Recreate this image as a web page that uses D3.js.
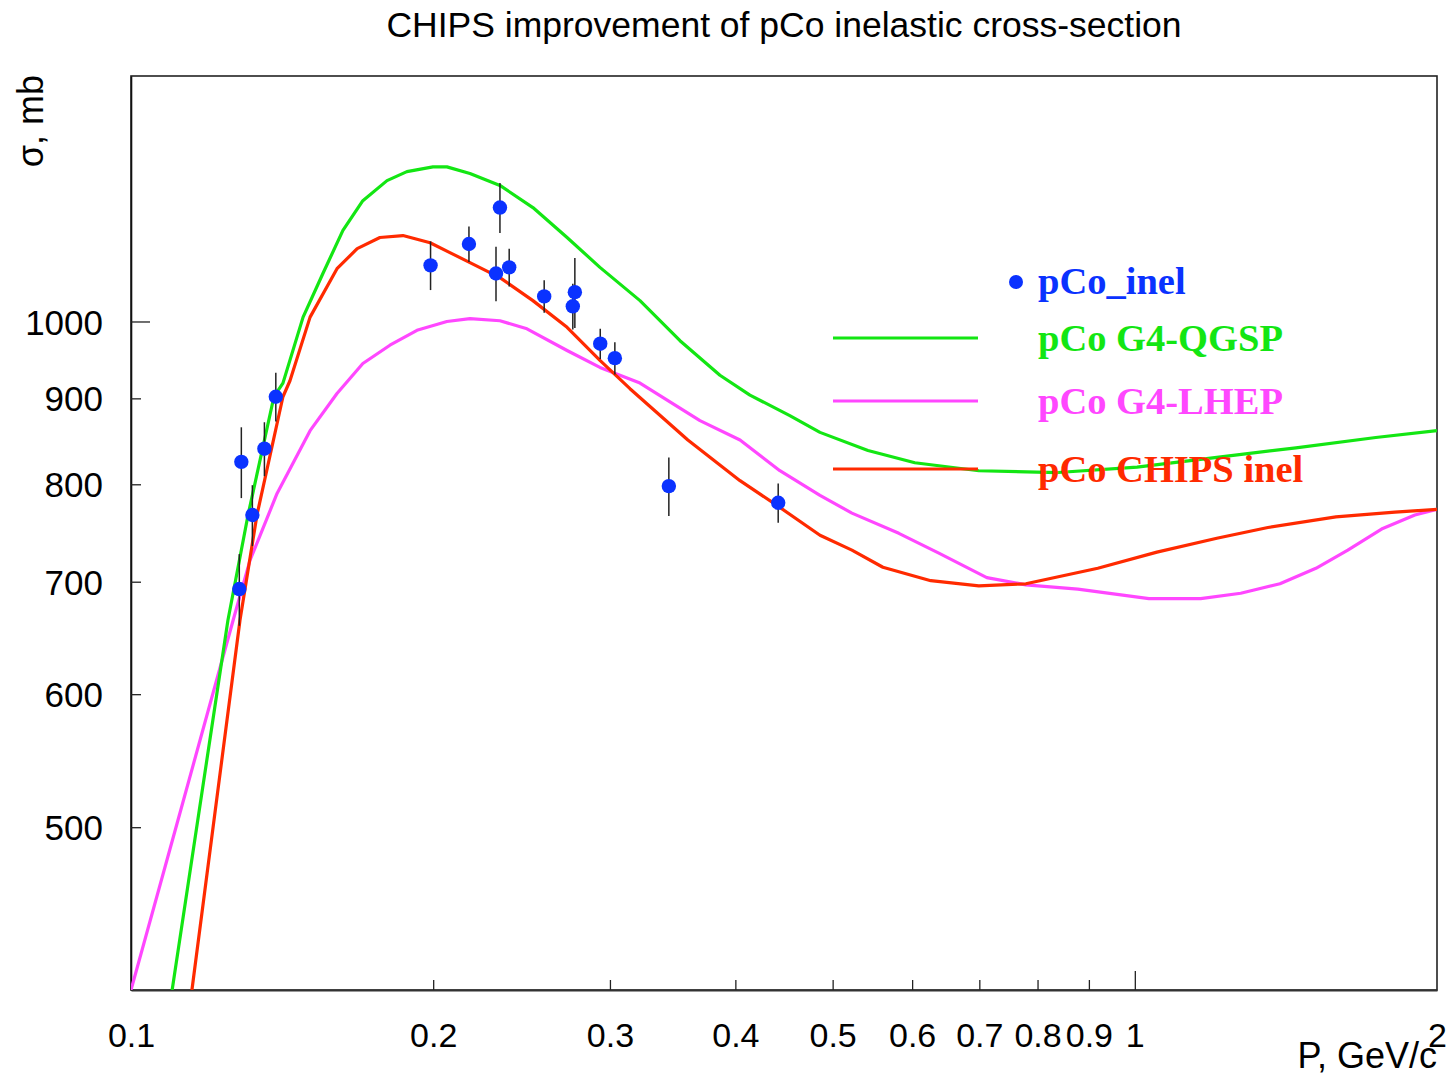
<!DOCTYPE html>
<html>
<head>
<meta charset="utf-8">
<script src="https://cdn.jsdelivr.net/npm/d3@7"></script>
<style>
  html, body { margin: 0; padding: 0; background: #fff; }
  svg { display: block; }
</style>
</head>
<body>
<svg id="chart" width="1452" height="1076"></svg>
<script>
// ---- data ----
const title = "CHIPS improvement of pCo inelastic cross-section";
const xTickValues = [0.1, 0.2, 0.3, 0.4, 0.5, 0.6, 0.7, 0.8, 0.9, 1, 2];
const xTickLabels = ["0.1", "0.2", "0.3", "0.4", "0.5", "0.6", "0.7", "0.8", "0.9", "1", "2"];
const yTickValues = [500, 600, 700, 800, 900, 1000];
const yTickLabels = ["500", "600", "700", "800", "900", "1000"];

// measured points pCo_inel
const dataP   = [0.1282, 0.1288, 0.1321, 0.1358, 0.1394, 0.1988, 0.2171, 0.2331, 0.2310, 0.2381, 0.2580, 0.2768, 0.2755, 0.2934, 0.3034, 0.3434, 0.4413];
const dataSig = [693, 825, 767, 840, 902, 1080, 1112, 1169, 1068, 1077, 1035, 1041, 1021, 970, 951, 798, 780];
const dataErr = [34, 40, 32, 31, 30, 36, 27, 40, 40, 28, 23, 50, 32, 20, 21, 32, 21];

// G4-QGSP
const qgspP   = [0.1099, 0.1249, 0.1308, 0.1388, 0.1417, 0.1484, 0.1553, 0.1626, 0.1702, 0.1799, 0.1883, 0.1999, 0.2064, 0.2176, 0.2331, 0.2514, 0.2719, 0.2932, 0.3214, 0.3523, 0.3861, 0.4136, 0.4532, 0.4857, 0.5422, 0.6038, 0.6992, 0.8382, 1.005, 1.207, 1.447, 1.738, 2.0];
const qgspSig = [400, 664, 767, 902, 919, 1006, 1068, 1133, 1180, 1213, 1228, 1236, 1236, 1225, 1205, 1169, 1122, 1077, 1029, 974, 929, 904, 879, 859, 838, 824, 815, 813, 819, 830, 841, 853, 861];

// G4-LHEP
const lhepP   = [0.1, 0.1119, 0.1264, 0.1314, 0.1398, 0.1508, 0.1604, 0.1702, 0.1811, 0.1927, 0.2064, 0.2176, 0.2331, 0.2480, 0.2719, 0.2932, 0.3214, 0.3688, 0.4043, 0.4430, 0.4857, 0.5226, 0.5820, 0.6379, 0.7121, 0.7789, 0.8775, 1.033, 1.163, 1.275, 1.395, 1.515, 1.630, 1.766, 1.901, 2.0];
const lhepSig = [400, 510, 664, 721, 790, 861, 906, 944, 968, 988, 1000, 1004, 1001, 990, 961, 939, 919, 873, 850, 815, 788, 769, 748, 728, 704, 697, 693, 684, 684, 689, 698, 713, 731, 753, 767, 773];

// CHIPS inel
const chipsP   = [0.1150, 0.1284, 0.1335, 0.1417, 0.1440, 0.1508, 0.1604, 0.1680, 0.1770, 0.1866, 0.1986, 0.2078, 0.2176, 0.2331, 0.2514, 0.2719, 0.2932, 0.3141, 0.3587, 0.4043, 0.4430, 0.4857, 0.5226, 0.5611, 0.6263, 0.6992, 0.7789, 0.9186, 1.052, 1.207, 1.357, 1.586, 1.816, 2.0];
const chipsSig = [400, 664, 767, 902, 922, 1006, 1075, 1105, 1122, 1125, 1114, 1099, 1084, 1062, 1029, 992, 948, 912, 850, 804, 775, 746, 731, 714, 701, 696, 698, 713, 729, 743, 754, 765, 770, 773];

const legendLabels = ["pCo_inel", "pCo G4-QGSP", "pCo G4-LHEP", "pCo CHIPS inel"];
const colors = { data: "#0a32ff", qgsp: "#13e613", lhep: "#ff47ff", chips: "#ff2a00" };

// ---- layout ----
const svg = d3.select("#chart");
const L = 131, R = 1437, T = 76, B = 990;
const x = d3.scaleLog().domain([0.1, 2]).range([L, R]);
const y = d3.scaleLog().domain([400, 1400]).range([B, T]);
const sans = "Liberation Sans, Arial, sans-serif";

svg.append("defs").append("clipPath").attr("id", "clip")
  .append("rect").attr("x", L).attr("y", T).attr("width", R - L).attr("height", B - T);

// title
svg.append("text").attr("x", 784).attr("y", 37).attr("text-anchor", "middle")
  .attr("font-family", sans).attr("font-size", 35.5)
  .text(title);

// frame
svg.append("rect").attr("x", L).attr("y", T).attr("width", R - L).attr("height", B - T)
  .attr("fill", "none").attr("stroke", "#222").attr("stroke-width", 1.6);

// x axis
const xAxis = d3.axisBottom(x).tickValues(xTickValues)
  .tickFormat((d, i) => xTickLabels[i]).tickSizeOuter(0);
const gx = svg.append("g").attr("transform", `translate(0,${B})`).call(xAxis);
gx.select(".domain").attr("stroke", "#333").attr("stroke-width", 2);
gx.selectAll(".tick line").attr("y2", d => (d === 1 ? -19 : -10)).attr("stroke", "#222").attr("stroke-width", 1.3)
  .attr("opacity", d => (d === 0.1 || d === 2) ? 0 : 1);
gx.selectAll(".tick text").attr("y", 57).attr("dy", 0)
  .attr("font-family", sans).attr("font-size", 34).attr("fill", "#000");

// y axis
const yAxis = d3.axisLeft(y).tickValues(yTickValues)
  .tickFormat((d, i) => yTickLabels[i]).tickSizeOuter(0);
const gy = svg.append("g").attr("transform", `translate(${L},0)`).call(yAxis);
gy.select(".domain").attr("stroke", "#111").attr("stroke-width", 1.6);
gy.selectAll(".tick line").attr("x2", d => (d === 1000 ? 19 : 10)).attr("stroke", "#222").attr("stroke-width", 1.3);
gy.selectAll(".tick text").attr("x", -28).attr("dy", "0.36em")
  .attr("font-family", sans).attr("font-size", 35).attr("fill", "#000");

// axis titles
svg.append("text").attr("transform", "translate(43,75) rotate(-90)").attr("text-anchor", "end")
  .attr("font-family", sans).attr("font-size", 36).text("σ, mb");
svg.append("text").attr("x", 1437).attr("y", 1068).attr("text-anchor", "end")
  .attr("font-family", sans).attr("font-size", 36).text("P, GeV/c");

// curves
const line = d3.line().x(d => x(d[0])).y(d => y(d[1]));
const plot = svg.append("g").attr("clip-path", "url(#clip)");
function drawCurve(px, py, col) {
  plot.append("path").datum(px.map((v, i) => [v, py[i]]))
    .attr("d", line).attr("fill", "none").attr("stroke", col).attr("stroke-width", 3.2)
    .attr("stroke-linejoin", "round");
}
drawCurve(lhepP, lhepSig, colors.lhep);
drawCurve(qgspP, qgspSig, colors.qgsp);
drawCurve(chipsP, chipsSig, colors.chips);

// data points
const pts = dataP.map((v, i) => ({ x: v, y: dataSig[i], e: dataErr[i] }));
plot.selectAll("line.err").data(pts).enter().append("line")
  .attr("x1", d => x(d.x)).attr("x2", d => x(d.x))
  .attr("y1", d => y(d.y + d.e)).attr("y2", d => y(d.y - d.e))
  .attr("stroke", "#222").attr("stroke-width", 1.5);
plot.selectAll("circle.pt").data(pts).enter().append("circle")
  .attr("cx", d => x(d.x)).attr("cy", d => y(d.y)).attr("r", 7.2)
  .attr("fill", colors.data);

// legend
const lg = svg.append("g");
const lfont = "Liberation Serif, Times New Roman, serif";
lg.append("circle").attr("cx", 1016).attr("cy", 282).attr("r", 7).attr("fill", colors.data);
const legendRows = [
  { label: legendLabels[0], col: colors.data, yy: 281, line: false },
  { label: legendLabels[1], col: colors.qgsp, yy: 338, line: true },
  { label: legendLabels[2], col: colors.lhep, yy: 401, line: true },
  { label: legendLabels[3], col: colors.chips, yy: 469, line: true }
];
legendRows.forEach(r => {
  if (r.line) lg.append("line").attr("x1", 833).attr("x2", 978).attr("y1", r.yy).attr("y2", r.yy)
    .attr("stroke", r.col).attr("stroke-width", 3);
  lg.append("text").attr("x", 1038).attr("y", r.yy + 13).attr("font-family", lfont)
    .attr("font-weight", "bold").attr("font-size", 38.5).attr("fill", r.col).text(r.label);
});
</script>
</body>
</html>
